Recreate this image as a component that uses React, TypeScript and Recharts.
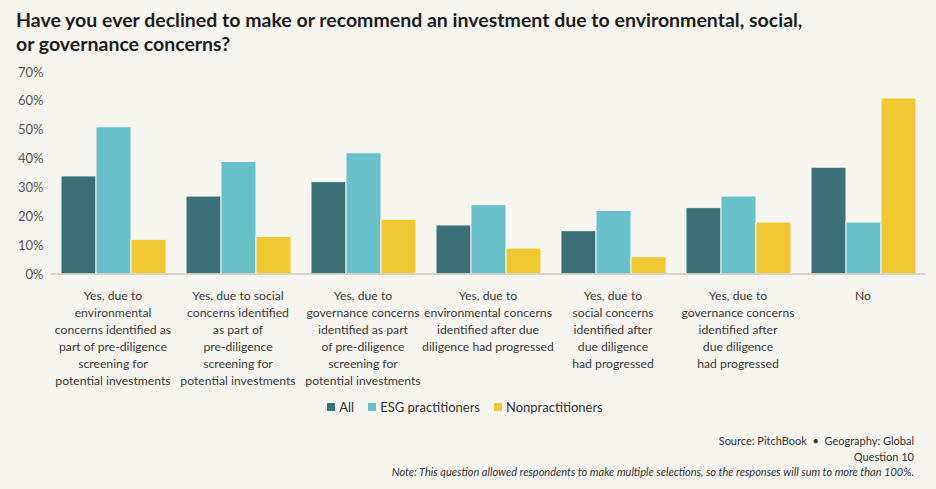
import React from 'react';
import { BarChart, Bar, XAxis, YAxis } from 'recharts';

// answer categories, one entry per line of the tick label
const categories: string[][] = [
  ['Yes, due to', 'environmental', 'concerns identified as', 'part of pre-diligence', 'screening for', 'potential investments'],
  ['Yes, due to social', 'concerns identified', 'as part of', 'pre-diligence', 'screening for', 'potential investments'],
  ['Yes, due to', 'governance concerns', 'identified as part', 'of pre-diligence', 'screening for', 'potential investments'],
  ['Yes, due to', 'environmental concerns', 'identified after due', 'diligence had progressed'],
  ['Yes, due to', 'social concerns', 'identified after', 'due diligence', 'had progressed'],
  ['Yes, due to', 'governance concerns', 'identified after', 'due diligence', 'had progressed'],
  ['No'],
];

const allValues = [34, 27, 32, 17, 15, 23, 37];
const esgValues = [51, 39, 42, 24, 22, 27, 18];
const nonValues = [12, 13, 19, 9, 6, 18, 61];

const yTicks = [0, 10, 20, 30, 40, 50, 60, 70];

const seriesNames = ['All', 'ESG practitioners', 'Nonpractitioners'];
const seriesColors = ['#3b7077', '#68c0c8', '#f0c832'];

const chartData = categories.map((lines, i) => ({
  name: String(i),
  lines,
  All: allValues[i],
  ESG: esgValues[i],
  Non: nonValues[i],
}));

const FONT = "Lato, 'Open Sans', sans-serif";

const CategoryTick = (props: any) => {
  const { x, y, payload } = props;
  const lines: string[] = categories[Number(payload.value)] || [];
  return (
    <text x={x} y={y} textAnchor="middle" fill="#3a3a3a" fontSize={12.2} fontFamily={FONT}>
      {lines.map((l, i) => (
        <tspan key={i} x={x} dy={i === 0 ? 26 : 17}>
          {l}
        </tspan>
      ))}
    </text>
  );
};

export default function App() {
  return (
    <div
      style={{
        position: 'absolute',
        left: 0,
        top: 0,
        width: 936,
        height: 489,
        background: '#f6f5f0',
        fontFamily: FONT,
        overflow: 'hidden',
      }}
    >
      <div
        style={{
          position: 'absolute',
          left: 16,
          top: 8,
          fontSize: 19.5,
          lineHeight: '24px',
          fontWeight: 700,
          color: '#1c1c1c',
        }}
      >
        Have you ever declined to make or recommend an investment due to environmental, social,
        <br />
        or governance concerns?
      </div>

      <div style={{ position: 'absolute', left: 0, top: 0 }}>
        <BarChart
          width={936}
          height={400}
          data={chartData}
          margin={{ top: 72, right: 10.5, bottom: 0, left: 0 }}
          barCategoryGap="8.4%"
          barGap={0}
        >
          <XAxis
            dataKey="name"
            interval={0}
            height={126}
            tickLine={false}
            tickSize={0}
            tickMargin={0}
            axisLine={{ stroke: '#cfcac1', strokeWidth: 1.5 }}
            tick={<CategoryTick />}
          />
          <YAxis
            width={50.5}
            domain={[0, 70]}
            ticks={yTicks}
            axisLine={false}
            tickLine={false}
            tickSize={0}
            tickMargin={7}
            tickFormatter={(v) => `${v}%`}
            tick={{ fill: '#555', fontSize: 13, fontFamily: FONT }}
          />
          <Bar dataKey="All" fill={seriesColors[0]} stroke="#f6f5f0" strokeWidth={1} isAnimationActive={false} />
          <Bar dataKey="ESG" fill={seriesColors[1]} stroke="#f6f5f0" strokeWidth={1} isAnimationActive={false} />
          <Bar dataKey="Non" fill={seriesColors[2]} stroke="#f6f5f0" strokeWidth={1} isAnimationActive={false} />
        </BarChart>
      </div>

      <div
        style={{
          position: 'absolute',
          left: 0,
          width: 936,
          top: 399,
          display: 'flex',
          justifyContent: 'center',
          fontSize: 13,
          color: '#333',
        }}
      >
        <div style={{ display: 'flex', gap: 14, transform: 'translateX(-3px)' }}>
          {seriesNames.map((n, i) => (
            <div key={n} style={{ display: 'flex', alignItems: 'center', gap: 4 }}>
              <span style={{ width: 8, height: 8, background: seriesColors[i], display: 'inline-block' }} />
              <span>{n}</span>
            </div>
          ))}
        </div>
      </div>

      <div
        style={{
          position: 'absolute',
          right: 22,
          top: 433,
          textAlign: 'right',
          fontSize: 11,
          lineHeight: '15.5px',
          color: '#333',
        }}
      >
        <div>Source: PitchBook &nbsp;•&nbsp; Geography: Global</div>
        <div>Question 10</div>
        <div style={{ fontStyle: 'italic' }}>
          Note: This question allowed respondents to make multiple selections, so the responses will sum to more than 100%.
        </div>
      </div>
    </div>
  );
}
